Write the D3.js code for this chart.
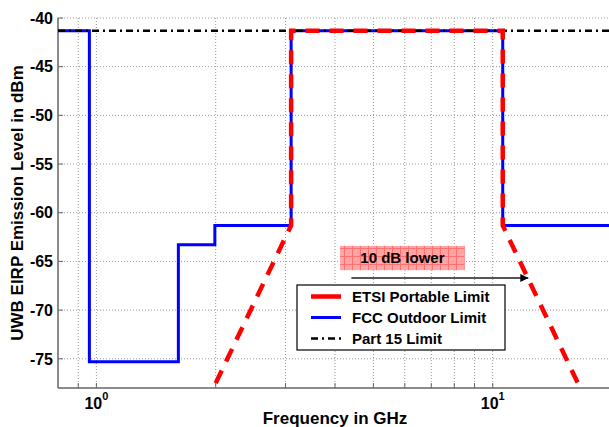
<!DOCTYPE html>
<html>
<head>
<meta charset="utf-8">
<script src="https://cdn.jsdelivr.net/npm/d3@7"></script>
<style>
  body { margin: 0; background: #fff; }
  svg { display: block; font-family: "Liberation Sans", Arial, sans-serif; font-weight: bold; }
</style>
</head>
<body>
<svg width="609" height="427"></svg>
<script>
// emission masks, frequency in GHz, level in dBm
const etsiFreq = [2.0, 3.1, 3.1, 10.6, 10.6, 16.4]
const etsiLevel = [-77.5, -61.3, -41.3, -41.3, -61.3, -77.5]
const fccFreq = [0.8, 0.96, 0.96, 1.61, 1.61, 1.99, 1.99, 3.1, 3.1, 10.6, 10.6, 20]
const fccLevel = [-41.3, -41.3, -75.3, -75.3, -63.3, -63.3, -61.3, -61.3, -41.3, -41.3, -61.3, -61.3]
const part15Freq = [0.8, 20]
const part15Level = [-41.3, -41.3]

const yTicks = [-75, -70, -65, -60, -55, -50, -45, -40]
const xGrid = [0.9, 1, 2, 3, 4, 5, 6, 7, 8, 9, 10, 20]
const xLabels = [{ f: 1, exp: "0" }, { f: 10, exp: "1" }]
const legendNames = ["ETSI Portable Limit", "FCC Outdoor Limit", "Part 15 Limit"]

// annotation "10 dB lower" box and arrow (data units)
const noteBox = { f0: 4.12, f1: 8.5, top: -63.4, bottom: -65.9, text: "10 dB lower" }
const noteArrow = { f0: 4.4, f1: 12.3, level: -66.7 }

const svg = d3.select('svg')
const x = d3.scaleLog().domain([0.8, 20]).range([58, 612])
const y = d3.scaleLinear().domain([-78, -40]).range([388, 18])

// grid
svg.append('g').selectAll('line')
    .data(xGrid).enter().append('line')
    .attr('x1', d => x(d)).attr('x2', d => x(d))
    .attr('y1', y(-78)).attr('y2', y(-40))
    .attr('stroke', '#999').attr('stroke-width', 1).attr('stroke-dasharray', '1,2')
svg.append('g').selectAll('line')
    .data(yTicks).enter().append('line')
    .attr('x1', x(0.8)).attr('x2', 609)
    .attr('y1', d => y(d)).attr('y2', d => y(d))
    .attr('stroke', '#999').attr('stroke-width', 1).attr('stroke-dasharray', '1,2')

// axes
const axisG = svg.append('g').attr('stroke', '#666').attr('stroke-width', 1.5)
axisG.append('line').attr('x1', x(0.8)).attr('x2', 609).attr('y1', y(-78)).attr('y2', y(-78))
axisG.append('line').attr('x1', x(0.8)).attr('x2', x(0.8)).attr('y1', y(-78)).attr('y2', y(-40))
axisG.selectAll('.xt').data(xGrid).enter().append('line')
    .attr('x1', d => x(d)).attr('x2', d => x(d))
    .attr('y1', y(-78)).attr('y2', y(-78) - 5).attr('stroke-width', 1)
axisG.selectAll('.yt').data(yTicks).enter().append('line')
    .attr('x1', x(0.8)).attr('x2', x(0.8) + 5)
    .attr('y1', d => y(d)).attr('y2', d => y(d)).attr('stroke-width', 1)

svg.append('g').selectAll('text')
    .data(yTicks).enter().append('text')
    .attr('x', x(0.8) - 5).attr('y', d => y(d)).attr('dy', '0.36em')
    .attr('text-anchor', 'end').attr('font-size', 16)
    .text(d => d)

const xl = svg.append('g').selectAll('text')
    .data(xLabels).enter().append('text')
    .attr('x', d => x(d.f)).attr('y', 409)
    .attr('text-anchor', 'middle').attr('font-size', 16)
xl.append('tspan').text('10')
xl.append('tspan').attr('dy', -9).attr('font-size', 11).text(d => d.exp)

svg.append('text')
    .attr('x', 335).attr('y', 424).attr('text-anchor', 'middle').attr('font-size', 17)
    .text('Frequency in GHz')
svg.append('text')
    .attr('transform', `translate(23,${(y(-78) + y(-40)) / 2}) rotate(-90)`)
    .attr('text-anchor', 'middle').attr('font-size', 17)
    .text('UWB EIRP Emission Level in dBm')

// curves
const line = d3.line().x(d => x(d[0])).y(d => y(d[1]))
const plot = svg.append('g')
plot.append('path')
    .attr('d', line(d3.zip(fccFreq, fccLevel)))
    .attr('fill', 'none').attr('stroke', '#0000ff').attr('stroke-width', 3)
plot.append('path')
    .attr('d', line(d3.zip(part15Freq, part15Level)))
    .attr('fill', 'none').attr('stroke', '#000').attr('stroke-width', 2.5)
    .attr('stroke-dasharray', '7,4,2,4')
plot.append('path')
    .attr('d', line(d3.zip(etsiFreq, etsiLevel)))
    .attr('fill', 'none').attr('stroke', '#ff0000').attr('stroke-width', 4.5)
    .attr('stroke-dasharray', '14,10')

// annotation
const defs = svg.append('defs')
const pat = defs.append('pattern').attr('id', 'hatch')
    .attr('patternUnits', 'userSpaceOnUse').attr('width', 8).attr('height', 8)
pat.append('rect').attr('width', 8).attr('height', 8).attr('fill', '#ffa5a5')
pat.append('path').attr('d', 'M0,0.5H8M0.5,0V8').attr('stroke', '#ff7070').attr('stroke-width', 1)

svg.append('rect')
    .attr('x', x(noteBox.f0)).attr('y', y(noteBox.top))
    .attr('width', x(noteBox.f1) - x(noteBox.f0))
    .attr('height', y(noteBox.bottom) - y(noteBox.top))
    .attr('fill', 'url(#hatch)')
svg.append('text')
    .attr('x', (x(noteBox.f0) + x(noteBox.f1)) / 2)
    .attr('y', (y(noteBox.top) + y(noteBox.bottom)) / 2).attr('dy', '0.36em')
    .attr('text-anchor', 'middle').attr('font-size', 15)
    .text(noteBox.text)

defs.append('marker').attr('id', 'arrow')
    .attr('viewBox', '0 0 10 10').attr('refX', 10).attr('refY', 5)
    .attr('markerWidth', 4).attr('markerHeight', 4).attr('orient', 'auto')
    .append('path').attr('d', 'M0,0L10,5L0,10Z').attr('fill', '#000')
svg.append('line')
    .attr('x1', x(noteArrow.f0)).attr('x2', x(noteArrow.f1))
    .attr('y1', y(noteArrow.level)).attr('y2', y(noteArrow.level))
    .attr('stroke', '#555').attr('stroke-width', 2)
    .attr('marker-end', 'url(#arrow)')

// legend
const legend = svg.append('g').attr('transform', 'translate(297,285)')
legend.append('rect').attr('width', 208).attr('height', 65)
    .attr('fill', '#fff').attr('stroke', '#000').attr('stroke-width', 1.2)
const styles = [
    { color: '#ff0000', width: 4.5, dash: null },
    { color: '#0000ff', width: 3, dash: null },
    { color: '#000', width: 2.5, dash: '7,4,2,4' }
]
legendNames.forEach((name, i) => {
    const ry = 11.5 + i * 21
    legend.append('line')
        .attr('x1', 14).attr('x2', 44).attr('y1', ry).attr('y2', ry)
        .attr('stroke', styles[i].color).attr('stroke-width', styles[i].width)
        .attr('stroke-dasharray', styles[i].dash)
    legend.append('text')
        .attr('x', 55).attr('y', ry).attr('dy', '0.36em').attr('font-size', 15)
        .text(name)
})
</script>
</body>
</html>
